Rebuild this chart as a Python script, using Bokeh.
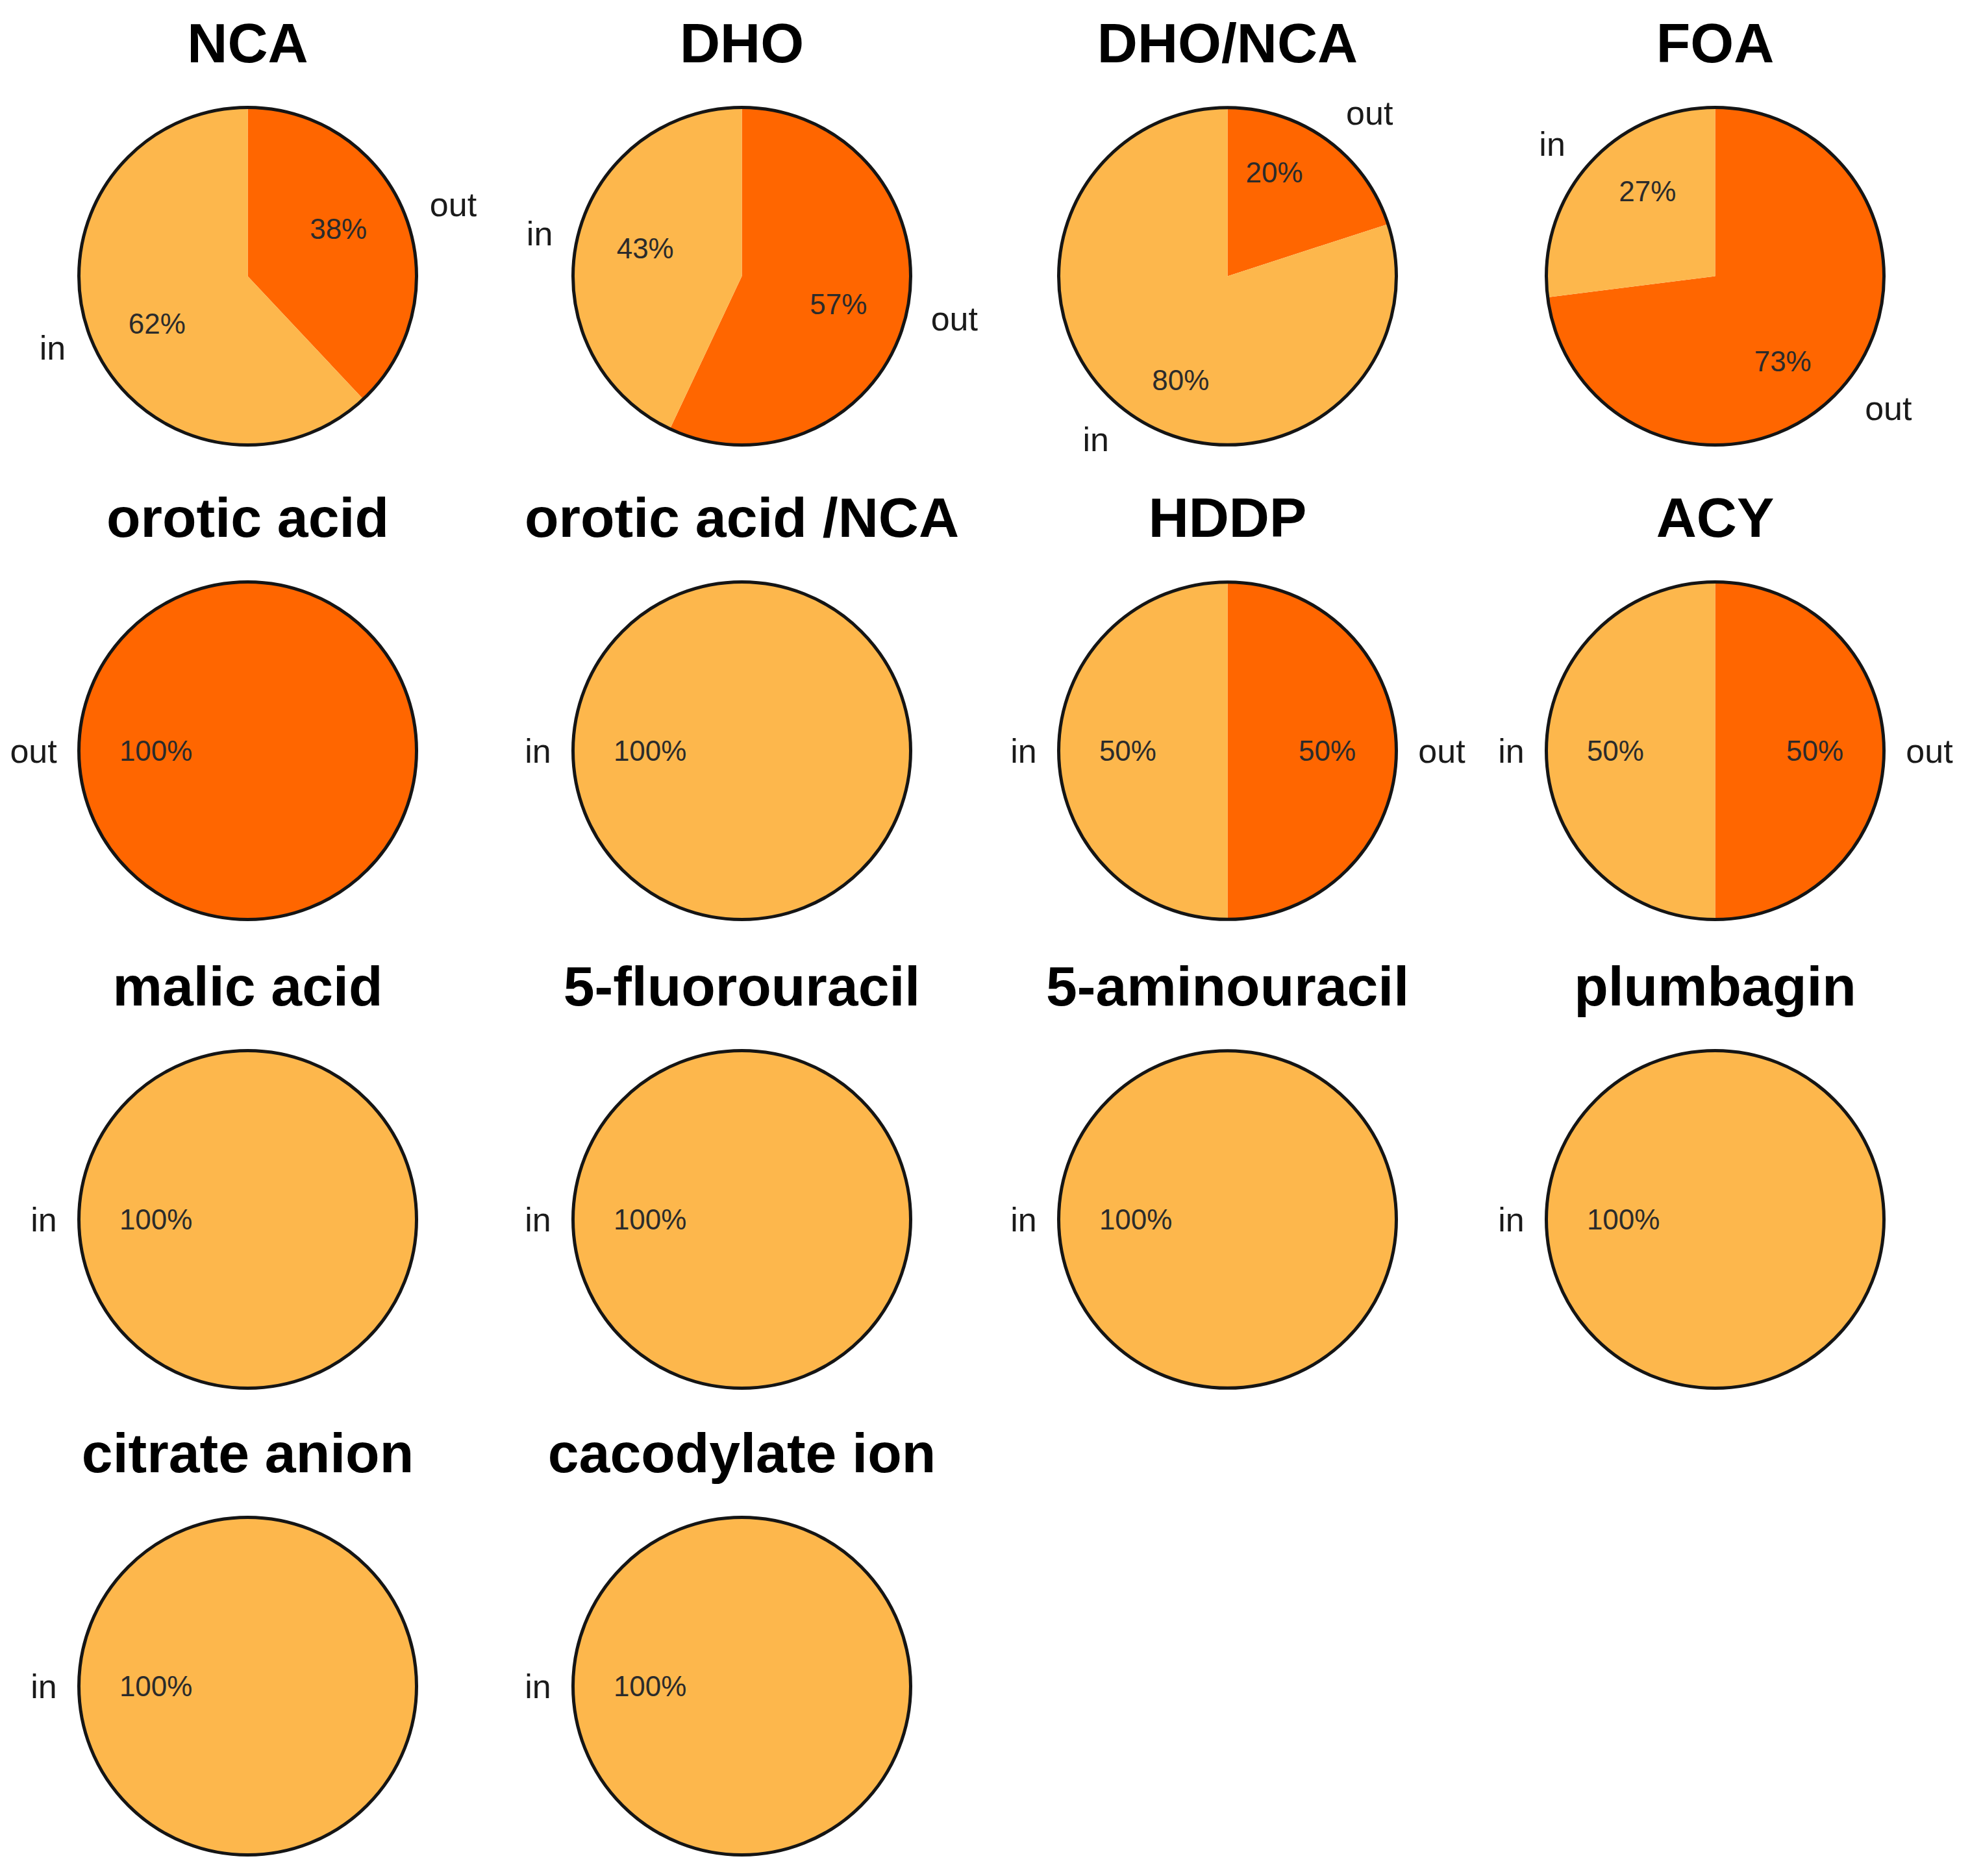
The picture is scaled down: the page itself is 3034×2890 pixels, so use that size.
import numpy as np
from bokeh.plotting import figure
from bokeh.models import Range1d, ColumnDataSource
from bokeh.core.properties import value
from bokeh.embed import file_html
from bokeh.resources import INLINE

# ---------------- data ----------------
titles = ["NCA", "DHO", "DHO/NCA", "FOA",
          "orotic acid", "orotic acid /NCA", "HDDP", "ACY",
          "malic acid", "5-fluorouracil", "5-aminouracil", "plumbagin",
          "citrate anion", "cacodylate ion"]
categories = ["out", "in"]
out_pct = [38, 57, 20, 73, 100, 0, 50, 50, 0, 0, 0, 0, 0, 0]
in_pct = [62, 43, 80, 27, 0, 100, 50, 50, 100, 100, 100, 100, 100, 100]

# ---------------- layout / style ----------------
W, H = 3034, 2890
col_x = [389, 1150, 1898, 2649]
row_y = [433, 1164, 1886, 2605]        # image-pixel centres (from top)
R = 260
TITLE_GAP = 360
colors = {"out": "#FF6600", "in": "#FDB74C"}
FONT = "Liberation Sans"

p = figure(width=W - 16, height=H - 16, x_range=Range1d(8, W - 8), y_range=Range1d(8, H - 8),
           x_axis_type=None, y_axis_type=None, toolbar_location=None,
           output_backend="svg", min_border=0, outline_line_color=None,
           background_fill_color="white", border_fill_color="white")

wedge = dict(x=[], y=[], s=[], e=[], c=[])
full = dict(x=[], y=[], c=[])
outline = dict(x=[], y=[])
ttl = dict(x=[], y=[], t=[])
outer = {a: dict(x=[], y=[], t=[]) for a in ("left", "right", "center")}
inner = {a: dict(x=[], y=[], t=[]) for a in ("left", "right", "center")}

for i, name in enumerate(titles):
    cx = col_x[i % 4]
    cy = H - row_y[i // 4]
    vals = {"out": out_pct[i], "in": in_pct[i]}
    total = float(sum(vals.values()))
    outline["x"].append(cx); outline["y"].append(cy)
    ttl["x"].append(cx); ttl["y"].append(cy + TITLE_GAP); ttl["t"].append(name)
    cum = 0.0
    for cat in categories:
        v = vals[cat]
        if v <= 0:
            continue
        frac = v / total
        if frac >= 1.0:
            full["x"].append(cx); full["y"].append(cy); full["c"].append(colors[cat])
            mid = np.pi  # label on the left for a full pie
        else:
            a0 = np.pi / 2 - 2 * np.pi * cum
            a1 = np.pi / 2 - 2 * np.pi * (cum + frac)
            wedge["x"].append(cx); wedge["y"].append(cy)
            wedge["s"].append(a0); wedge["e"].append(a1); wedge["c"].append(colors[cat])
            mid = np.pi / 2 - 2 * np.pi * (cum + frac / 2)
        cum += frac
        c, s = np.cos(mid), np.sin(mid)
        # outer category label, anchored on its inner edge
        oa = "left" if c > 0.05 else ("right" if c < -0.05 else "center")
        rf = 1.13 + 0.08 * abs(s)
        d = outer[oa]
        d["x"].append(cx + rf * R * c); d["y"].append(cy + rf * R * s); d["t"].append(cat)
        # percentage label, anchored on its outer edge
        ia = "right" if c > 0.05 else ("left" if c < -0.05 else "center")
        d = inner[ia]
        d["x"].append(cx + 0.76 * R * c); d["y"].append(cy + 0.76 * R * s)
        d["t"].append(f"{v:.0f}%")

p.wedge(x="x", y="y", radius=R, start_angle="s", end_angle="e", direction="clock",
        fill_color="c", line_color=None, source=ColumnDataSource(wedge))
p.circle(x="x", y="y", radius=R, fill_color="c", line_color=None, source=ColumnDataSource(full))
p.circle(x="x", y="y", radius=R, fill_color=None, line_color="#151515", line_width=5,
         source=ColumnDataSource(outline))

p.text(x="x", y="y", text="t", source=ColumnDataSource(ttl), text_font=value(FONT),
       text_font_style="bold", text_font_size="86px", text_align="center",
       text_baseline="middle", text_color="#000000")
for a, d in outer.items():
    if d["x"]:
        p.text(x="x", y="y", text="t", source=ColumnDataSource(d), text_font=value(FONT),
               text_font_size="52px", text_align=a, text_baseline="middle", text_color="#1a1a1a")
for a, d in inner.items():
    if d["x"]:
        p.text(x="x", y="y", text="t", source=ColumnDataSource(d), text_font=value(FONT),
               text_font_size="44px", text_align=a, text_baseline="middle", text_color="#2b2b2b")

open("out.html", "w").write(file_html(p, INLINE))
